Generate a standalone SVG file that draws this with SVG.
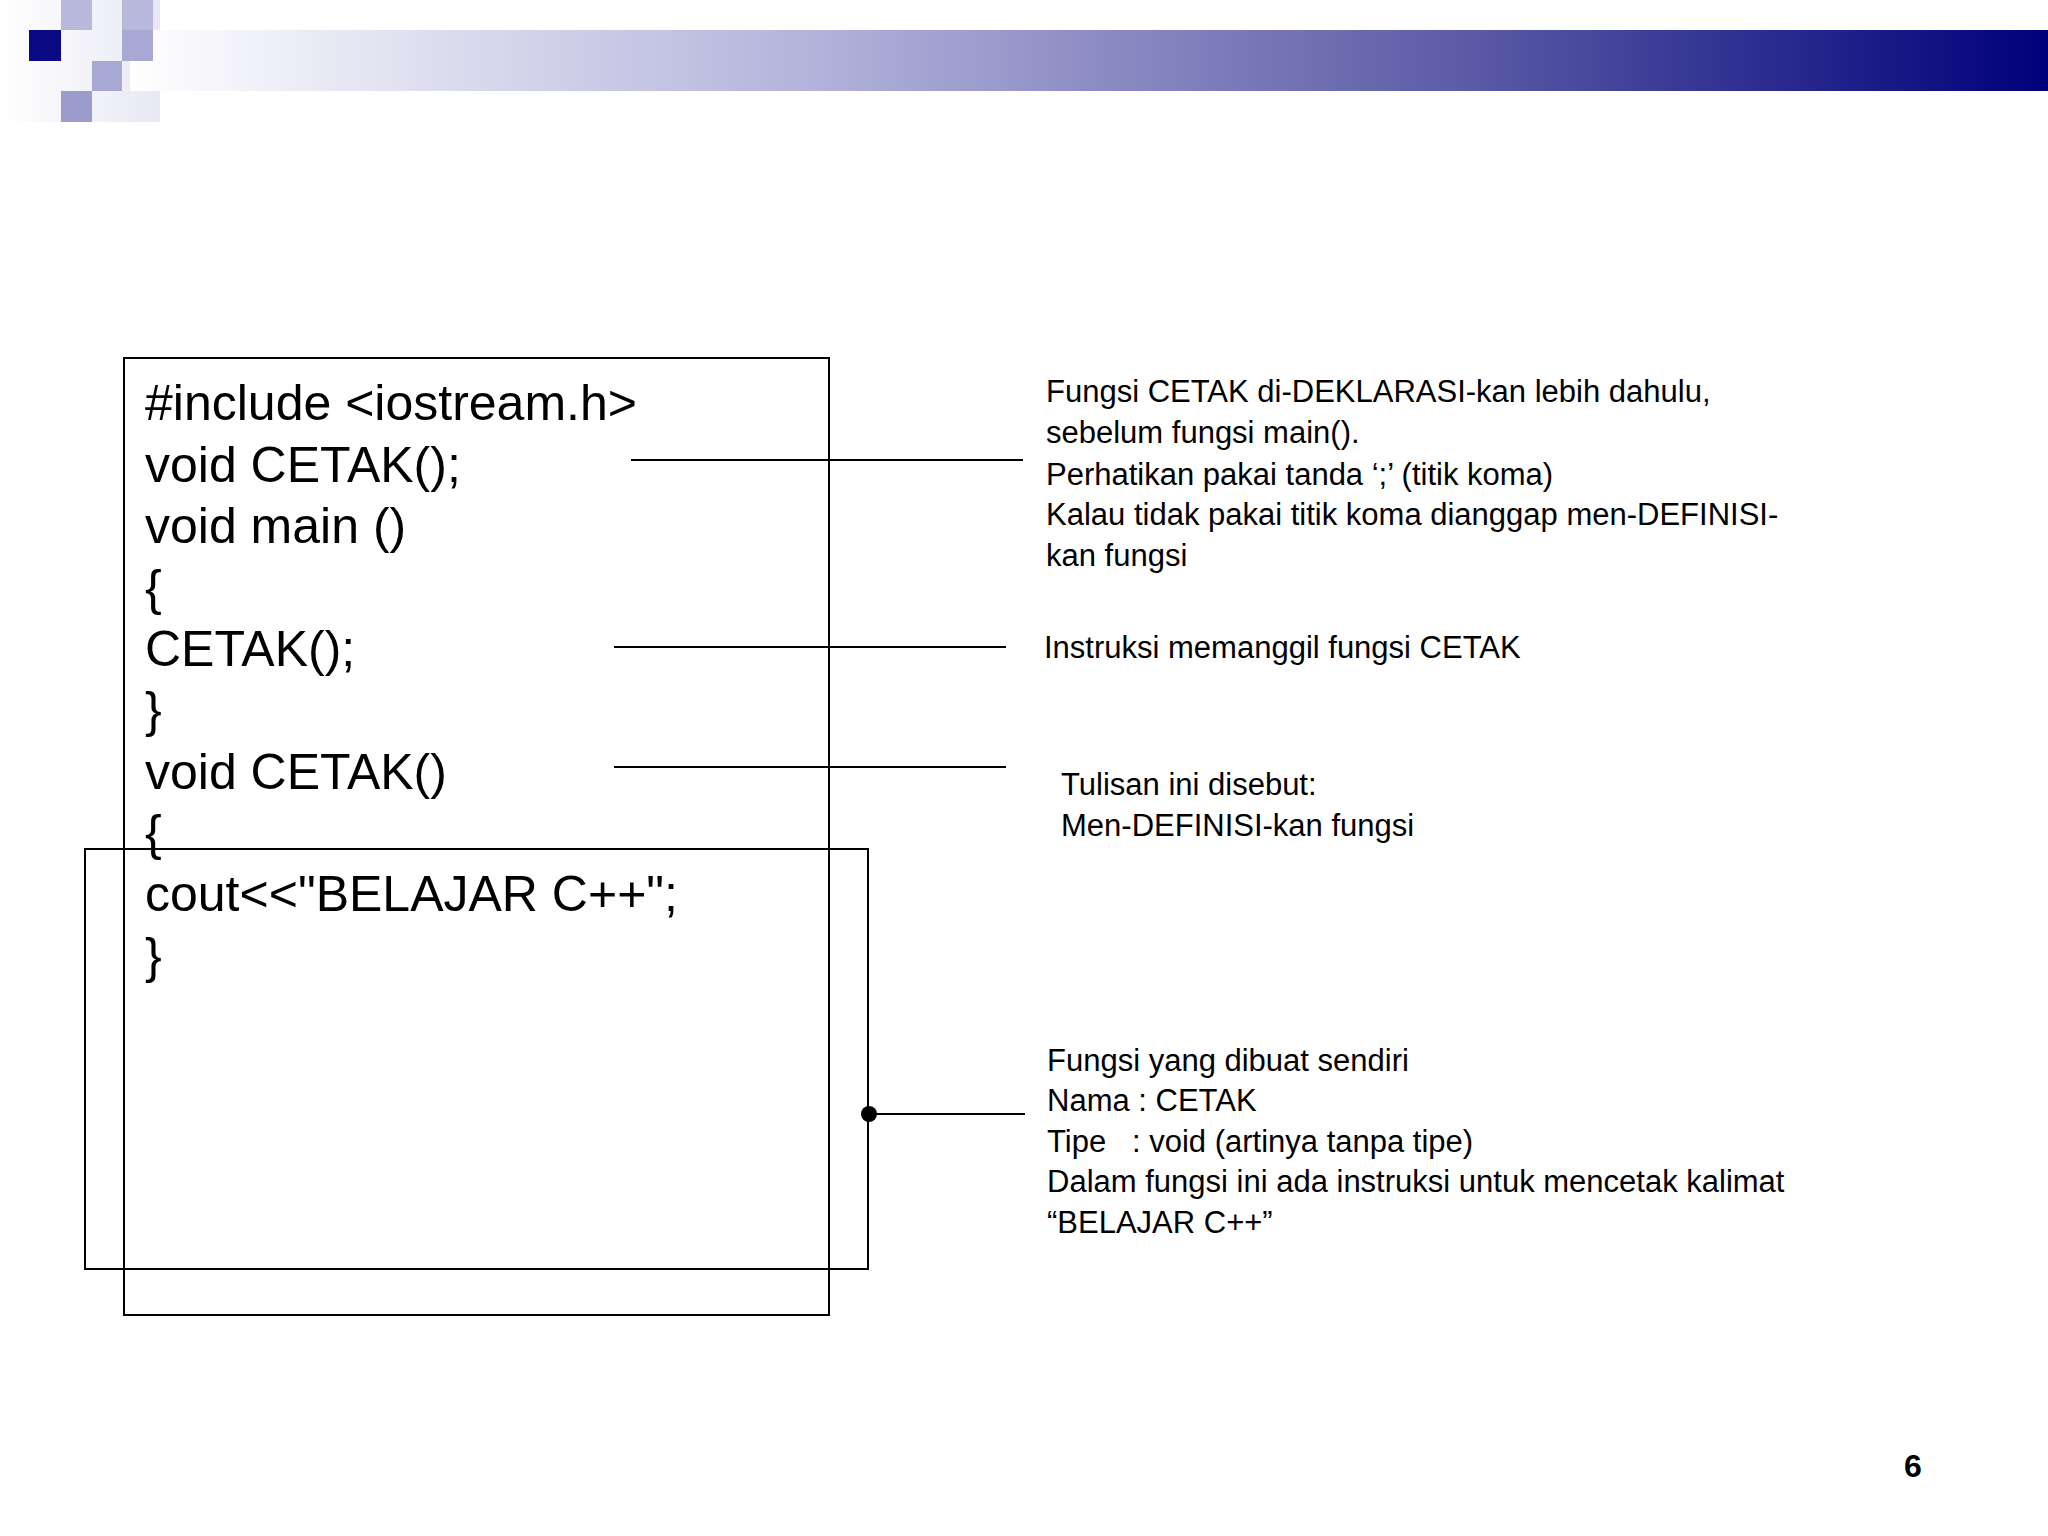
<svg xmlns="http://www.w3.org/2000/svg" width="2048" height="1536" viewBox="0 0 2048 1536">
<defs>
<linearGradient id="g" x1="0" x2="1" y1="0" y2="0">
<stop offset="0" stop-color="#ffffff"/>
<stop offset="0.35" stop-color="#b4b4dc"/>
<stop offset="0.7" stop-color="#5a5aa6"/>
<stop offset="1" stop-color="#00007a"/>
</linearGradient>
<linearGradient id="g2" x1="0" x2="1"><stop offset="0" stop-color="#fff"/><stop offset="1" stop-color="#e8e8f4"/></linearGradient>
</defs>
<style>
.code{font-family:"Liberation Sans",Arial,sans-serif;font-size:50px;fill:#000}
.note{font-family:"Liberation Sans",Arial,sans-serif;font-size:31px;fill:#000}
.box{fill:none;stroke:#000;stroke-width:2}
.ln{stroke:#000;stroke-width:2}
</style>
<rect width="2048" height="1536" fill="#fff"/>
<g id="header">
<rect x="0" y="0" width="160" height="122" fill="url(#g2)"/>
<rect x="130" y="30" width="1918" height="61" fill="url(#g)"/>
<rect x="61" y="0" width="31" height="30" fill="#b8b8dc"/>
<rect x="122" y="0" width="31" height="30" fill="#b8b8dc"/>
<rect x="29" y="30" width="32" height="31" fill="#0a0a84"/>
<rect x="122" y="30" width="31" height="31" fill="#a8a8d4"/>
<rect x="92" y="61" width="30" height="30" fill="#a8a8d4"/>
<rect x="61" y="91" width="31" height="31" fill="#9c9ccc"/>
</g>
<g id="code-box">
<rect class="box" x="124" y="358" width="705" height="957"/>
<rect class="box" x="85" y="849" width="783" height="420"/>
<text class="code" x="145" y="420">#include &lt;iostream.h&gt;</text>
<text class="code" x="145" y="482">void CETAK();</text>
<text class="code" x="145" y="543">void main ()</text>
<text class="code" x="145" y="605">{</text>
<text class="code" x="145" y="666">CETAK();</text>
<text class="code" x="145" y="727">}</text>
<text class="code" x="145" y="789">void CETAK()</text>
<text class="code" x="145" y="850">{</text>
<text class="code" x="145" y="911">cout&lt;&lt;"BELAJAR C++";</text>
<text class="code" x="145" y="973">}</text>
</g>
<g id="connectors">
<line class="ln" x1="631" y1="460" x2="1023" y2="460"/>
<line class="ln" x1="614" y1="647" x2="1006" y2="647"/>
<line class="ln" x1="614" y1="767" x2="1006" y2="767"/>
<line class="ln" x1="868" y1="1114" x2="1025" y2="1114"/>
<circle cx="869" cy="1114" r="8" fill="#000"/>
</g>
<g id="note1">
<text class="note" x="1046" y="402">Fungsi CETAK di-DEKLARASI-kan lebih dahulu,</text>
<text class="note" x="1046" y="443">sebelum fungsi main().</text>
<text class="note" x="1046" y="485">Perhatikan pakai tanda ‘;’ (titik koma)</text>
<text class="note" x="1046" y="525">Kalau tidak pakai titik koma dianggap men-DEFINISI-</text>
<text class="note" x="1046" y="566">kan fungsi</text>
</g>
<g id="note2"><text class="note" x="1044" y="658">Instruksi memanggil fungsi CETAK</text></g>
<g id="note3">
<text class="note" x="1061" y="795">Tulisan ini disebut:</text>
<text class="note" x="1061" y="836">Men-DEFINISI-kan fungsi</text>
</g>
<g id="note4">
<text class="note" x="1047" y="1071">Fungsi yang dibuat sendiri</text>
<text class="note" x="1047" y="1111">Nama : CETAK</text>
<text class="note" x="1047" y="1152" xml:space="preserve">Tipe   : void (artinya tanpa tipe)</text>
<text class="note" x="1047" y="1192">Dalam fungsi ini ada instruksi untuk mencetak kalimat</text>
<text class="note" x="1047" y="1233">“BELAJAR C++”</text>
</g>
<text x="1913" y="1477" text-anchor="middle" font-family="Liberation Sans,Arial,sans-serif" font-weight="bold" font-size="32">6</text>
</svg>
